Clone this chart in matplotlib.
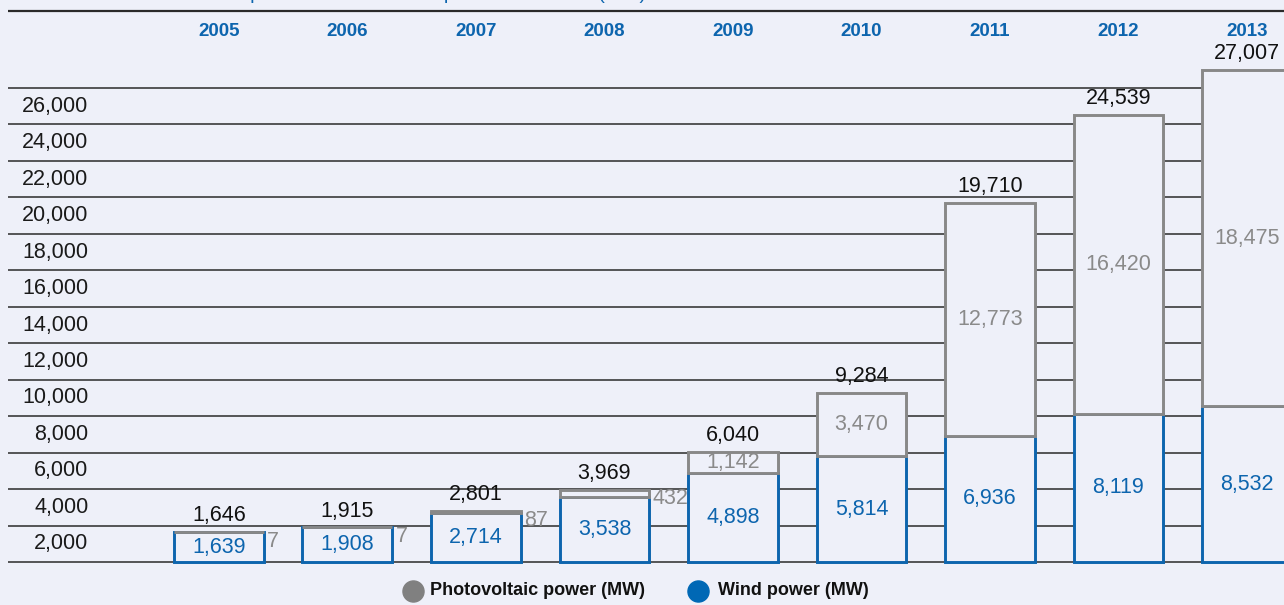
import matplotlib.pyplot as plt
from matplotlib import patheffects as pe

plt.rcParams['font.family'] = ['Liberation Sans', 'DejaVu Sans']

years = ['2005', '2006', '2007', '2008', '2009', '2010', '2011', '2012', '2013']
wind = [1639, 1908, 2714, 3538, 4898, 5814, 6936, 8119, 8532]
pv = [7, 7, 87, 432, 1142, 3470, 12773, 16420, 18475]
total = [1646, 1915, 2801, 3969, 6040, 9284, 19710, 24539, 27007]
grid_vals = list(range(0, 28000, 2000))
tick_vals = list(range(2000, 28000, 2000))

bg = '#eef0f9'
blue = '#0d65ae'
gray = '#8a8a8a'
line_c = '#2a2a2a'

fig = plt.figure(figsize=(12.84, 6.05), dpi=100)
fig.patch.set_facecolor(bg)
ax = fig.add_axes([0, 0, 1, 1])
ax.set_facecolor(bg)
ax.axis('off')
ax.set_xlim(-1.704, 8.288)
ax.set_ylim(-2359, 30828)

x = list(range(len(years)))
left = -1.642

# header title (runs off the top edge) and rule
ax.text(-1.40, 30900, 'Trends in the amount of photovoltaic and wind power connected (MW)',
        color=blue, fontsize=14, ha='left', va='baseline')
ax.hlines(30225, left, 8.4, color=line_c, lw=1.6, zorder=1)

# horizontal grid bands
ax.hlines(grid_vals, left, 8.4, color=line_c, lw=1.1, zorder=1)
for v in tick_vals:
    ax.text(-1.015, v - 1000, f'{v:,}', ha='right', va='center',
            fontsize=15.5, color='#1a1a1a')

for xi, yr in zip(x, years):
    ax.text(xi, 29100, yr, ha='center', va='center', fontsize=13.5,
            fontweight='bold', color=blue)

shadow = [pe.SimplePatchShadow(offset=(1.2, -1.2), shadow_rgbFace='k', alpha=0.18),
          pe.Normal()]

wb = ax.bar(x, wind, width=0.70, facecolor=bg, edgecolor=blue, lw=2.1, zorder=3)
pb = ax.bar(x, pv, bottom=wind, width=0.70, facecolor=bg, edgecolor='#888888',
            lw=2.1, zorder=3)
for p in list(wb) + list(pb):
    p.set_path_effects(shadow)

for xi, w, p, t in zip(x, wind, pv, total):
    ax.text(xi, w / 2, f'{w:,}', ha='center', va='center', fontsize=15.5,
            color=blue, zorder=5)
    if p >= 1000:
        ax.text(xi, w + p / 2, f'{p:,}', ha='center', va='center', fontsize=15.5,
                color=gray, zorder=5)
    else:
        ax.annotate(f'{p:,}', xy=(xi + 0.355, t), xytext=(2, 1),
                    textcoords='offset points', ha='left', va='top',
                    fontsize=15.5, color=gray, zorder=5)
    ax.annotate(f'{t:,}', xy=(xi, t), xytext=(0, 4), textcoords='offset points',
                ha='center', va='bottom', fontsize=15.5, color='#111111', zorder=5)

# legend
ax.scatter([1.51], [-1591], s=230, color='#808080', zorder=5)
ax.text(1.645, -1591, 'Photovoltaic power (MW)', ha='left', va='center',
        fontsize=13, fontweight='bold', color='#111111')
ax.scatter([3.728], [-1591], s=230, color='#0068b5', zorder=5)
ax.text(3.88, -1591, 'Wind power (MW)', ha='left', va='center',
        fontsize=13, fontweight='bold', color='#111111')

fig.savefig('out.png', dpi=100, facecolor=bg)
